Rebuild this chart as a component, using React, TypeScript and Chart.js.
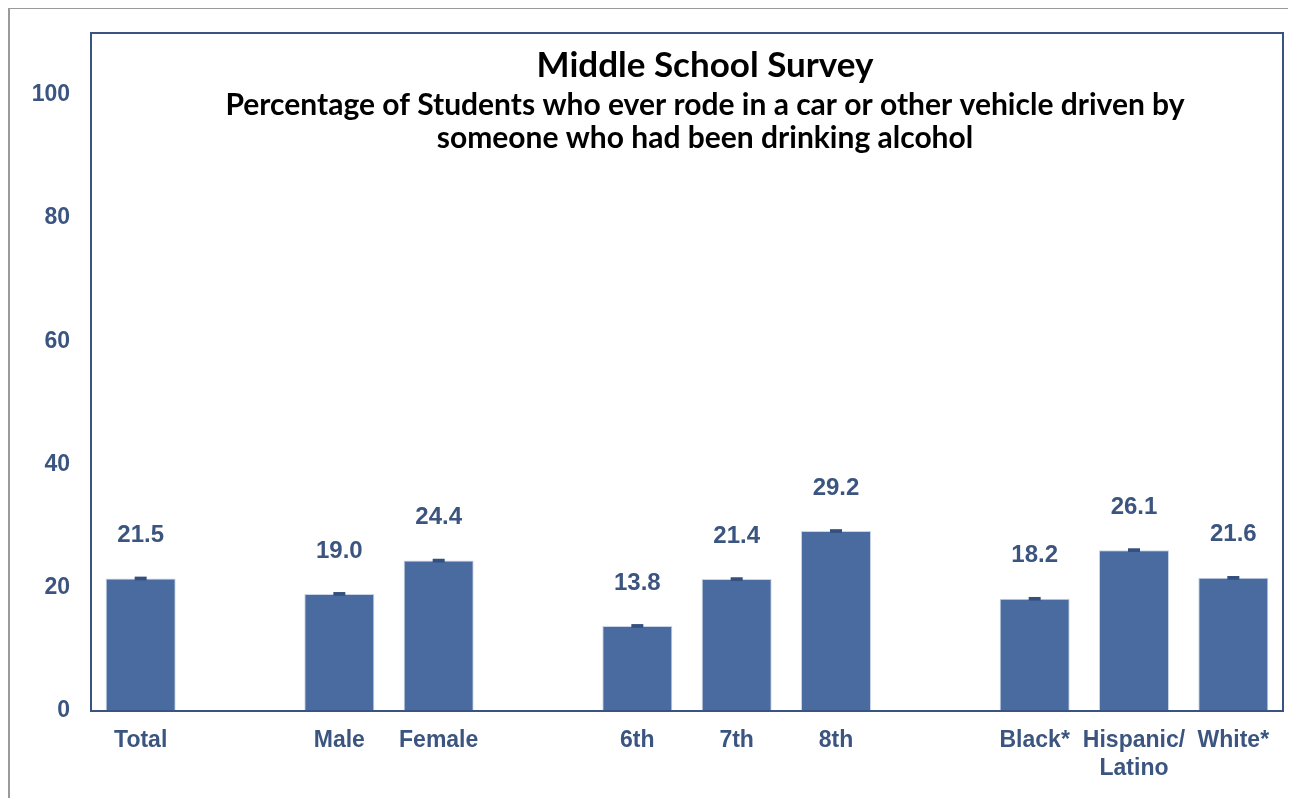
import React, { useEffect, useRef } from "react";
import { Chart, registerables } from "chart.js";

Chart.register(...registerables);

const categories: string[] = ["Total", "", "Male", "Female", "", "6th", "7th", "8th", "", "Black*", "Hispanic/\nLatino", "White*"];
const values: (number | null)[] = [21.5, null, 19.0, 24.4, null, 13.8, 21.4, 29.2, null, 18.2, 26.1, 21.6];
const errLow: (number | null)[] = [21.2, null, 18.7, 24.1, null, 13.5, 21.1, 28.9, null, 17.9, 25.8, 21.3];
const errHigh: (number | null)[] = [21.8, null, 19.3, 24.7, null, 14.1, 21.7, 29.5, null, 18.5, 26.4, 21.9];
const yTicks: number[] = [0, 20, 40, 60, 80, 100];
const titleText = "Middle School Survey";
const subtitleLines: string[] = [
  "Percentage of Students who ever rode in a car or other vehicle driven by",
  "someone who had been drinking alcohol",
];

const BAR = "#4A6B9F";
const AXIS = "#3A5482";
const LABEL = "#3B5580";
const FONT = "'Liberation Sans', Arial, sans-serif";
const TFONT = "Lato, 'Open Sans', sans-serif";

const overlay = {
  id: "overlay",
  beforeDraw(chart: any) {
    const { ctx, width, height } = chart;
    ctx.save();
    ctx.fillStyle = "#fff";
    ctx.fillRect(0, 0, width, height);
    ctx.strokeStyle = "#9a9a9a";
    ctx.lineWidth = 2;
    ctx.beginPath();
    ctx.moveTo(1, height);
    ctx.lineTo(1, 0);
    ctx.lineTo(width, 0);
    ctx.stroke();
    ctx.restore();
  },
  afterDatasetsDraw(chart: any) {
    const { ctx, chartArea } = chart;
    const x = chart.scales.x;
    const y = chart.scales.y;
    ctx.save();
    ctx.strokeStyle = AXIS;
    ctx.lineWidth = 2;
    ctx.strokeRect(chartArea.left, chartArea.top, chartArea.right - chartArea.left, chartArea.bottom - chartArea.top);
    ctx.fillStyle = "#34507E";
    values.forEach((v, i) => {
      if (v === null) return;
      const cx = x.getPixelForValue(i);
      const y1 = y.getPixelForValue(errHigh[i] as number);
      const y2 = y.getPixelForValue(errLow[i] as number);
      ctx.fillRect(cx - 6, y1, 12, Math.max(3, y2 - y1));
    });
    ctx.fillStyle = LABEL;
    ctx.font = `bold 24px ${FONT}`;
    ctx.textAlign = "center";
    ctx.textBaseline = "middle";
    values.forEach((v, i) => {
      if (v === null) return;
      const cx = x.getPixelForValue(i);
      const top = y.getPixelForValue(v);
      ctx.fillText(v.toFixed(1), cx, top - 43);
    });
    ctx.fillStyle = "#000";
    const tcx = chartArea.left + 614;
    ctx.font = `bold 35px ${TFONT}`;
    ctx.fillText(titleText, tcx, chartArea.top + 33);
    ctx.font = `bold 30px ${TFONT}`;
    subtitleLines.forEach((line, k) => {
      ctx.fillText(line, tcx, chartArea.top + 72 + k * 33);
    });
    ctx.restore();
  },
};

export default function App() {
  const ref = useRef<HTMLCanvasElement | null>(null);
  useEffect(() => {
    if (!ref.current) return;
    const chart = new Chart(ref.current, {
      type: "bar",
      data: {
        labels: categories.map((c) => (c.includes("\n") ? c.split("\n") : c)),
        datasets: [
          {
            data: values,
            backgroundColor: BAR,
            borderColor: "#C9D4E6",
            borderWidth: 1,
            categoryPercentage: 1,
            barPercentage: 0.705,
          },
        ],
      },
      options: {
        animation: false,
        responsive: false,
        maintainAspectRatio: false,
        layout: { padding: { top: 25, right: 13, left: 0, bottom: 0 } },
        plugins: { legend: { display: false }, tooltip: { enabled: false }, title: { display: false } },
        scales: {
          x: {
            grid: { display: false, drawTicks: false },
            border: { display: false },
            ticks: {
              color: LABEL,
              font: { family: FONT, size: 23, weight: "bold", lineHeight: 1.2 },
              padding: 16,
              maxRotation: 0,
              autoSkip: false,
            },
            afterFit: (s: any) => {
              s.height = 87;
              s.paddingLeft = 0;
              s.paddingRight = 0;
            },
          },
          y: {
            min: 0,
            max: 110,
            grid: { display: false, drawTicks: false },
            border: { display: false },
            ticks: {
              stepSize: 20,
              color: LABEL,
              font: { family: FONT, size: 23, weight: "bold" },
              padding: 21,
            },
            afterBuildTicks: (s: any) => {
              s.ticks = yTicks.map((v) => ({ value: v }));
            },
            afterFit: (s: any) => {
              s.width = 83;
              s.paddingTop = 0;
              s.paddingBottom = 0;
            },
          },
        },
      },
      plugins: [overlay],
    });
    return () => chart.destroy();
  }, []);
  return (
    <div style={{ width: 1288, height: 790 }}>
      <canvas ref={ref} width={1288} height={790} style={{ display: "block" }} />
    </div>
  );
}
